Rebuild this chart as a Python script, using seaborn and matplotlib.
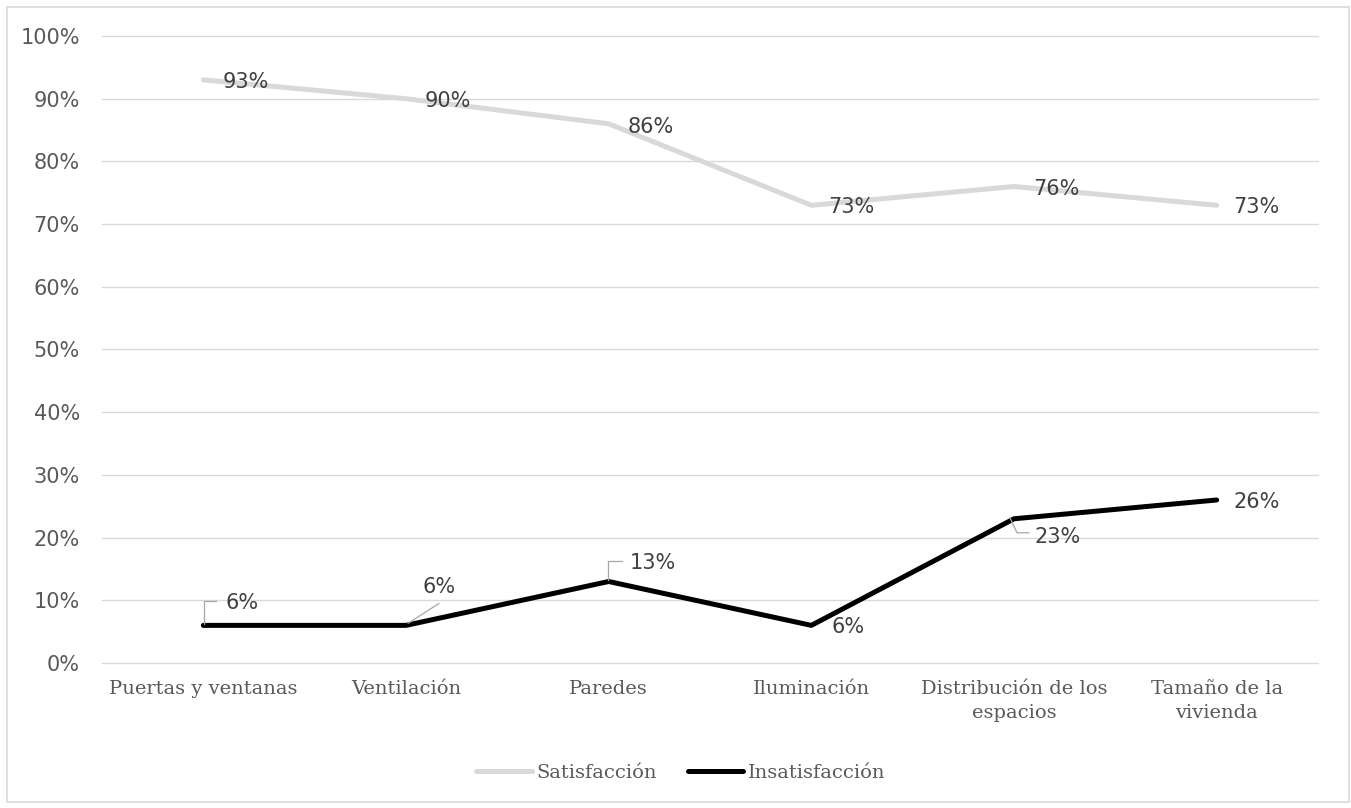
import matplotlib
matplotlib.use("Agg")
import matplotlib.pyplot as plt
from matplotlib.patches import Rectangle
from matplotlib.ticker import PercentFormatter
import numpy as np
import pandas as pd
import seaborn as sns

# Aspectos evaluados de la vivienda
categorias = [
    "Puertas y ventanas",
    "Ventilación",
    "Paredes",
    "Iluminación",
    "Distribución de los\nespacios",
    "Tamaño de la\nvivienda",
]
satisfaccion = [93, 90, 86, 73, 76, 73]
insatisfaccion = [6, 6, 13, 6, 23, 26]
series = ["Satisfacción", "Insatisfacción"]
yticks = list(range(0, 101, 10))

# Styling
colores = {"Satisfacción": "#d9d9d9", "Insatisfacción": "#000000"}
gris_texto = "#595959"
gris_etiqueta = "#404040"
gris_guia = "#a6a6a6"
sans = "DejaVu Sans"
serif = "DejaVu Serif"

df = pd.DataFrame({
    "Aspecto": categorias * 2,
    "Serie": [series[0]] * len(categorias) + [series[1]] * len(categorias),
    "Valor": satisfaccion + insatisfaccion,
})

sns.set_theme(style="white")
plt.rcParams["font.family"] = [sans]

W, H, DPI = 1351, 808, 100
fig = plt.figure(figsize=(W / DPI, H / DPI), dpi=DPI)
ax = fig.add_axes([102 / W, 1 - 663 / H, (1318 - 102) / W, (663 - 36) / H])

sns.lineplot(data=df, x="Aspecto", y="Valor", hue="Serie", palette=colores,
             sort=False, linewidth=3.6, ax=ax, legend=False)
for ln in ax.lines:
    ln.set_solid_capstyle("round")
    ln.set_solid_joinstyle("round")
handles = list(ax.lines[:2])

ax.set_xlim(-0.5, len(categorias) - 0.5)
ax.set_ylim(0, 100)
ax.set_yticks(yticks)
ax.yaxis.set_major_formatter(PercentFormatter(decimals=0))
ax.set_xlabel("")
ax.set_ylabel("")
ax.grid(axis="y", color="#d9d9d9", linewidth=1.0)
ax.grid(axis="x", visible=False)
ax.set_axisbelow(True)
for gl in ax.get_ygridlines():
    gl.set_clip_on(False)
for s in ax.spines.values():
    s.set_visible(False)
ax.tick_params(axis="y", length=0, pad=16, labelsize=15, labelcolor=gris_texto)
ax.tick_params(axis="x", length=0, pad=12, labelsize=14, labelcolor=gris_texto)
for t in ax.get_xticklabels():
    t.set_fontfamily(serif)
    t.set_linespacing(1.45)
for t in ax.get_yticklabels():
    t.set_fontfamily(sans)

# Data label offsets in pixels (dx right, dy down) relative to each point
off_sat = [(19, 2), (19, 2), (19, 3), (17, 2), (19, 3), (17, 2)]
off_ins = [(22, -22), (16, -38), (21, -18), (20, 2), (20, 18), (17, 2)]
# Leader lines (pixel offsets from the point) for moved labels
guias_ins = {
    0: [(1, -1), (1, -24), (13, -24)],
    1: [(2, -2), (33, -22)],
    2: [(-1, -1), (-1, -20), (13, -20)],
    4: [(-4, -1), (3, 14), (15, 14)],
}

def etiqueta(x, v, off):
    ax.annotate(f"{v}%", xy=(x, v), xytext=(off[0], -off[1]),
                textcoords="offset pixels", ha="left", va="center",
                fontsize=15, color=gris_etiqueta, fontfamily=sans, zorder=5)

def guia(x, v, offs):
    px, py = ax.transData.transform((x, v))
    pts = np.array([(px + dx, py - dy) for dx, dy in offs])
    d = ax.transData.inverted().transform(pts)
    ax.plot(d[:, 0], d[:, 1], color=gris_guia, linewidth=0.9, zorder=4)

for i, v in enumerate(satisfaccion):
    etiqueta(i, v, off_sat[i])
for i, v in enumerate(insatisfaccion):
    etiqueta(i, v, off_ins[i])
    if i in guias_ins:
        guia(i, v, guias_ins[i])

fig.legend(handles=handles, labels=series, loc="center",
           bbox_to_anchor=(681 / W, 1 - 773 / H), ncol=2, frameon=False,
           handlelength=2.85, handletextpad=0.25, columnspacing=1.6,
           prop={"family": serif, "size": 14}, labelcolor=gris_texto)

# Chart border
fig.patches.append(Rectangle((7 / W, 6 / H), (1349 - 7) / W, (802 - 7) / H,
                             transform=fig.transFigure, fill=False,
                             edgecolor="#d9d9d9", linewidth=1.2, zorder=0))

fig.savefig("out.png", dpi=DPI, facecolor="white")
